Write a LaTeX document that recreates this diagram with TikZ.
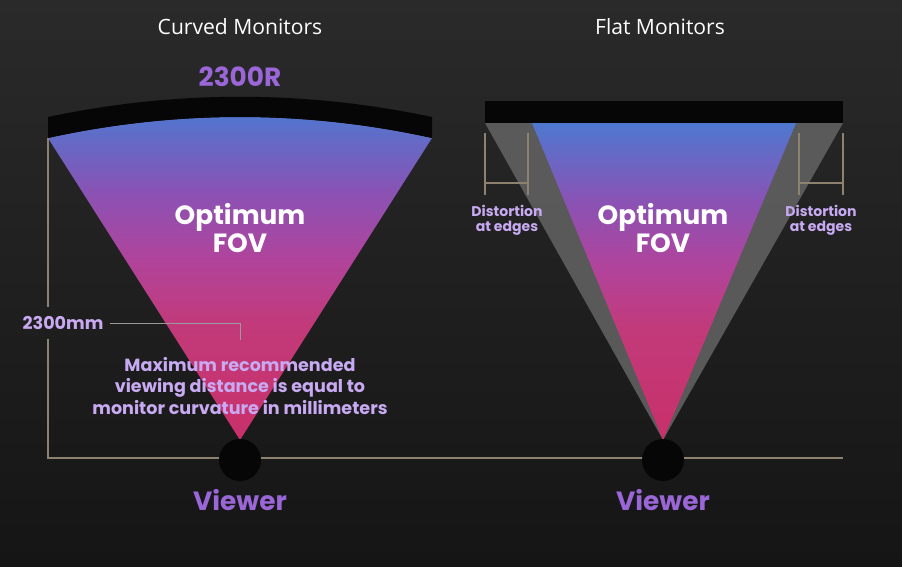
\documentclass[tikz,border=0pt]{standalone}
\usepackage{fontspec}
\setmainfont{Open Sans}
\newfontfamily\lblfont{Poppins}

\definecolor{bgtop}{HTML}{2A2A2A}
\definecolor{bgbot}{HTML}{151515}
\definecolor{fovtop}{HTML}{4E78D0}
\definecolor{fovupper}{HTML}{8A52B4}
\definecolor{fovmid}{HTML}{B0449C}
\definecolor{fovlower}{HTML}{C23A7A}
\definecolor{fovbot}{HTML}{C8306A}
\definecolor{purplelbl}{HTML}{9A66D8}
\definecolor{lavender}{HTML}{C8AAF2}
\definecolor{dimline}{HTML}{8C826F}
\definecolor{leadline}{HTML}{9A9A9A}
\definecolor{distgray}{HTML}{606060}
\definecolor{screen}{HTML}{060606}

\pgfdeclareverticalshading{fovshade}{100bp}{color(0bp)=(fovbot); color(25bp)=(fovbot);
  color(42.5bp)=(fovlower); color(52.5bp)=(fovmid); color(62.5bp)=(fovupper);
  color(75bp)=(fovtop); color(100bp)=(fovtop)}

\tikzset{
  title/.style={font=\fontsize{12}{14}\selectfont, text=white},
  tag/.style={font=\lblfont\bfseries\fontsize{15}{15}\selectfont, text=purplelbl},
  fov/.style={font=\lblfont\bfseries\fontsize{15}{16}\selectfont, text=white, align=center},
  note/.style={font=\lblfont\bfseries\fontsize{10}{12}\selectfont, text=lavender, align=center},
  small note/.style={font=\lblfont\bfseries\fontsize{8}{8.5}\selectfont, text=lavender, align=center},
  viewer/.style={circle, fill=screen, minimum size=0.84cm, inner sep=0pt},
  dim/.style={draw=dimline, line width=0.9pt},
  leader/.style={draw=leadline, line width=0.5pt},
  distort/.style={fill=distgray, fill opacity=0.9},
  cone/.style={shading=fovshade},
}

\begin{document}
\begin{tikzpicture}[x=0.02cm,y=-0.02cm]
\useasboundingbox (0,0) rectangle (902,566);
\shade[top color=bgtop, bottom color=bgbot] (0,0) rectangle (902,566);

% curved monitor
\shade[cone] (48,138) .. controls (176,110) and (304,110) .. (432,138) -- (240,440) -- cycle;
\fill[screen] (48,117) .. controls (176,90) and (304,90) .. (432,117) -- (432,138) .. controls (304,110) and (176,110) .. (48,138) -- cycle;

% flat monitor
\fill[distort] (485,123) -- (843,123) -- (663,440) -- cycle;
\shade[cone] (532,123) -- (796,123) -- (663,440) -- cycle;
\fill[screen] (485,101) rectangle (843,123);

% distortion brackets
\draw[dim] (485,133) -- (485,195);
\draw[dim] (528,133) -- (528,195);
\draw[dim] (485,183) -- (528,183);
\draw[dim] (799,133) -- (799,195);
\draw[dim] (843,133) -- (843,195);
\draw[dim] (799,183) -- (843,183);

% labels
\node[title] (tcurv) at (240,27) {Curved Monitors};
\node[title] (tflat) at (660,27) {Flat Monitors};
\node[tag] (radius) at (240,77) {2300R};
\node[fov] (fovL) at (240,228) {Optimum\\FOV};
\node[fov] (fovR) at (663,228) {Optimum\\FOV};
\node[small note] (distL) at (507,220) {Distortion\\at edges};
\node[small note] (distR) at (821,220) {Distortion\\at edges};
\node[note, inner ysep=5pt] (mm) at (63,323) {2300mm};
\node[note] (maxd) at (240,386) {Maximum recommended\\viewing distance is equal to\\monitor curvature in millimeters};

% distance lines
\coordinate (dimtop) at (48,138);
\coordinate (dimbot) at (48,458);
\coordinate (dimend) at (843,458);
\draw[dim] (dimtop) -- (dimtop |- mm.north);
\draw[dim] (dimtop |- mm.south) -- (dimbot) -- (dimend);
\coordinate (mmbend) at (240,323);
\coordinate (mmend) at (240,340);
\draw[leader] (mm.east) -- (mmbend) -- (mmend);

% viewers
\node[viewer] (viewL) at (240,460) {};
\node[viewer] (viewR) at (663,460) {};
\node[tag] (vlabL) at (240,500) {Viewer};
\node[tag] (vlabR) at (663,500) {Viewer};
\end{tikzpicture}
\end{document}
